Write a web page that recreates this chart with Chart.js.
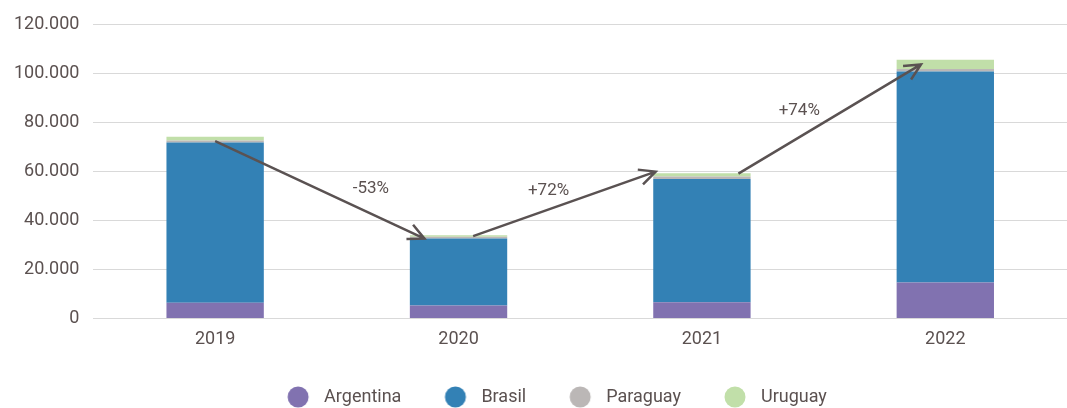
<!DOCTYPE html>
<html>
<head>
<meta charset="utf-8">
<script src="https://cdn.jsdelivr.net/npm/chart.js@4"></script>
<style>
  html, body { margin: 0; padding: 0; background: #fff; }
  #wrap { width: 1067px; height: 408px; position: relative; }
</style>
</head>
<body>
<div id="wrap"><canvas id="grafica"></canvas></div>
<script>
const years = ['2019', '2020', '2021', '2022'];
const argentina = [6400, 5300, 6600, 14700];
const brasil = [65500, 27400, 50400, 86200];
const paraguay = [800, 700, 1000, 1000];
const uruguay = [1500, 600, 1300, 3800];
const yTicks = [0, 20000, 40000, 60000, 80000, 100000, 120000];

// flechas: [desde indice, desde valor, hasta indice, hasta valor, texto, indice texto, valor texto]
const arrows = [
    [0.0, 72500, 0.86, 32600, '-53%', 0.64, 52800],
    [1.06, 33600, 1.81, 60000, '+72%', 1.37, 52000],
    [2.15, 59200, 2.90, 103800, '+74%', 2.40, 85000]
];

const colors = ['#8172b0', '#3381b5', '#bbb7b6', '#c1dfa9'];
const textColor = '#5b5150';
const fontFamily = 'Roboto, "Noto Sans", sans-serif';

// circulo de leyenda con espacio a la izquierda
function legendDot(color) {
    const c = document.createElement('canvas');
    c.width = 41;
    c.height = 22;
    const g = c.getContext('2d');
    g.fillStyle = color;
    g.beginPath();
    g.arc(24, 11, 10.5, 0, Math.PI * 2);
    g.fill();
    return c;
}
const dots = colors.map(legendDot);

const arrowPlugin = {
    id: 'flechas',
    afterLayout(chart) {
        // mover la leyenda un poco a la derecha
        chart.legend.left += 17;
        chart.legend.right += 17;
    },
    afterDatasetsDraw(chart) {
        const ctx = chart.ctx;
        const x = chart.scales.x;
        const y = chart.scales.y;
        ctx.save();
        ctx.strokeStyle = '#5a5252';
        ctx.lineWidth = 2.5;
        arrows.forEach(a => {
            const x1 = x.getPixelForValue(a[0]);
            const y1 = y.getPixelForValue(a[1]);
            const x2 = x.getPixelForValue(a[2]);
            const y2 = y.getPixelForValue(a[3]);
            ctx.beginPath();
            ctx.moveTo(x1, y1);
            ctx.lineTo(x2, y2);
            const ang = Math.atan2(y2 - y1, x2 - x1);
            const len = 18;
            ctx.moveTo(x2 - len * Math.cos(ang - 0.45), y2 - len * Math.sin(ang - 0.45));
            ctx.lineTo(x2, y2);
            ctx.lineTo(x2 - len * Math.cos(ang + 0.45), y2 - len * Math.sin(ang + 0.45));
            ctx.stroke();
            ctx.fillStyle = textColor;
            ctx.font = '17px ' + fontFamily;
            ctx.textAlign = 'center';
            ctx.textBaseline = 'middle';
            ctx.fillText(a[4], x.getPixelForValue(a[5]), y.getPixelForValue(a[6]));
        });
        ctx.restore();
    }
};

function serie(label, data, color) {
    return {
        label: label,
        data: data,
        backgroundColor: color,
        borderWidth: 0,
        barPercentage: 0.4,
        categoryPercentage: 1
    };
}

const ctx = document.getElementById('grafica').getContext('2d');
new Chart(ctx, {
    type: 'bar',
    data: {
        labels: years,
        datasets: [
            serie('Argentina', argentina, colors[0]),
            serie('Brasil', brasil, colors[1]),
            serie('Paraguay', paraguay, colors[2]),
            serie('Uruguay', uruguay, colors[3])
        ]
    },
    options: {
        responsive: true,
        maintainAspectRatio: false,
        animation: false,
        layout: { padding: { top: 8, right: 0, left: 0, bottom: -8 } },
        scales: {
            x: {
                stacked: true,
                grid: { display: false },
                border: { display: false },
                afterFit: s => { s.height += 6; },
                ticks: { color: textColor, font: { family: fontFamily, size: 18 }, padding: 2 }
            },
            y: {
                stacked: true,
                min: 0,
                max: 120000,
                afterBuildTicks: axis => { axis.ticks = yTicks.map(v => ({ value: v })); },
                grid: { color: '#d9d9d9', lineWidth: 1, drawTicks: false },
                border: { display: false },
                ticks: {
                    color: textColor,
                    font: { family: fontFamily, size: 18 },
                    padding: 14,
                    callback: v => v.toLocaleString('de-DE')
                }
            }
        },
        plugins: {
            tooltip: { enabled: false },
            legend: {
                position: 'bottom',
                labels: {
                    usePointStyle: true,
                    pointStyleWidth: 41,
                    boxHeight: 15,
                    padding: 30,
                    color: textColor,
                    font: { family: fontFamily, size: 18 },
                    generateLabels: chart => {
                        const items = Chart.defaults.plugins.legend.labels.generateLabels(chart);
                        items.forEach((it, i) => { it.pointStyle = dots[i]; });
                        return items;
                    }
                }
            }
        }
    },
    plugins: [arrowPlugin]
});
</script>
</body>
</html>
